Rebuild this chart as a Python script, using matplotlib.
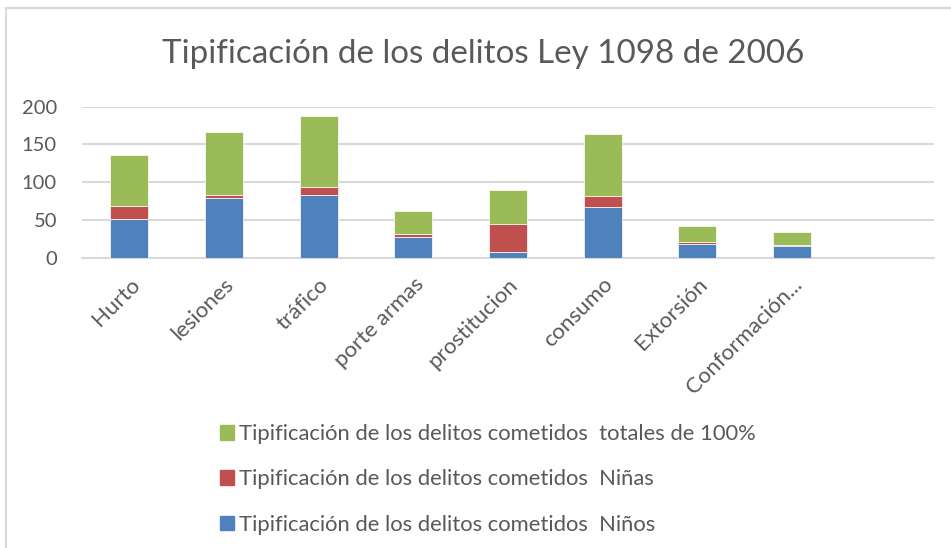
import matplotlib
matplotlib.use("Agg")
import matplotlib.pyplot as plt
from matplotlib.patches import Rectangle, Patch
import numpy as np

plt.rcParams['font.family'] = ['Lato', 'DejaVu Sans']

categorias = ["Hurto", "lesiones", "tráfico", "porte armas", "prostitucion",
              "consumo", "Extorsión", "Conformación..."]
ninos = [51, 79, 83, 28, 8, 67, 18, 15]
ninas = [17, 4, 11, 3, 37, 15, 3, 2]
totales = [68, 83, 94, 31, 45, 82, 21, 17]

etiquetas = ["Tipificación de los delitos cometidos  Niños",
             "Tipificación de los delitos cometidos  Niñas",
             "Tipificación de los delitos cometidos  totales de 100%"]
colores = ["#4f81bd", "#c0504d", "#9bbb59"]
gris = "#595959"

fig = plt.figure(figsize=(9.51, 5.48), dpi=100)
fig.patches.append(Rectangle((6 / 951, -0.1), 1.2, 1 - 8 / 548 + 0.1,
                             transform=fig.transFigure, fill=False,
                             edgecolor="#d9d9d9", linewidth=1.5))

ax = fig.add_axes([0.0862, 0.5297, 0.8958, 0.2756])
x = np.arange(len(categorias))
ancho = 0.4
ax.bar(x, ninos, ancho, color=colores[0], edgecolor="white", linewidth=0.5, zorder=3)
ax.bar(x, ninas, ancho, bottom=ninos, color=colores[1], edgecolor="white", linewidth=0.5, zorder=3)
base = np.array(ninos) + np.array(ninas)
ax.bar(x, totales, ancho, bottom=base, color=colores[2], edgecolor="white", linewidth=0.5, zorder=3)

ax.set_xlim(-0.5, 8.5)
ax.set_ylim(0, 200)
ax.set_yticks([0, 50, 100, 150, 200])
ax.yaxis.grid(True, color="#d9d9d9", linewidth=1.5, zorder=0)
ax.set_axisbelow(True)
for s in ["top", "right", "left"]:
    ax.spines[s].set_visible(False)
ax.spines["bottom"].set_color("#d9d9d9")
ax.spines["bottom"].set_linewidth(1.5)
ax.tick_params(axis="both", length=0, colors=gris)
ax.tick_params(axis="y", pad=18, labelsize=14.5)
ax.set_xticks(x)
ax.set_xticklabels(categorias, rotation=45, ha="right", rotation_mode="anchor")
ax.tick_params(axis="x", pad=12, labelsize=16)

fig.text(0.508, 0.902, "Tipificación de los delitos Ley 1098 de 2006",
         ha="center", va="center", fontsize=23.9, color=gris)

handles = [Patch(color=colores[2]), Patch(color=colores[1]), Patch(color=colores[0])]
fig.legend(handles, [etiquetas[2], etiquetas[1], etiquetas[0]],
           loc="upper left", bbox_to_anchor=(0.2313, 0.226), frameon=False,
           fontsize=15.85, labelcolor=gris, handlelength=0.65, handleheight=0.65,
           handletextpad=0.2, labelspacing=1.15, borderpad=0, borderaxespad=0)

fig.savefig("out.png", dpi=100)
